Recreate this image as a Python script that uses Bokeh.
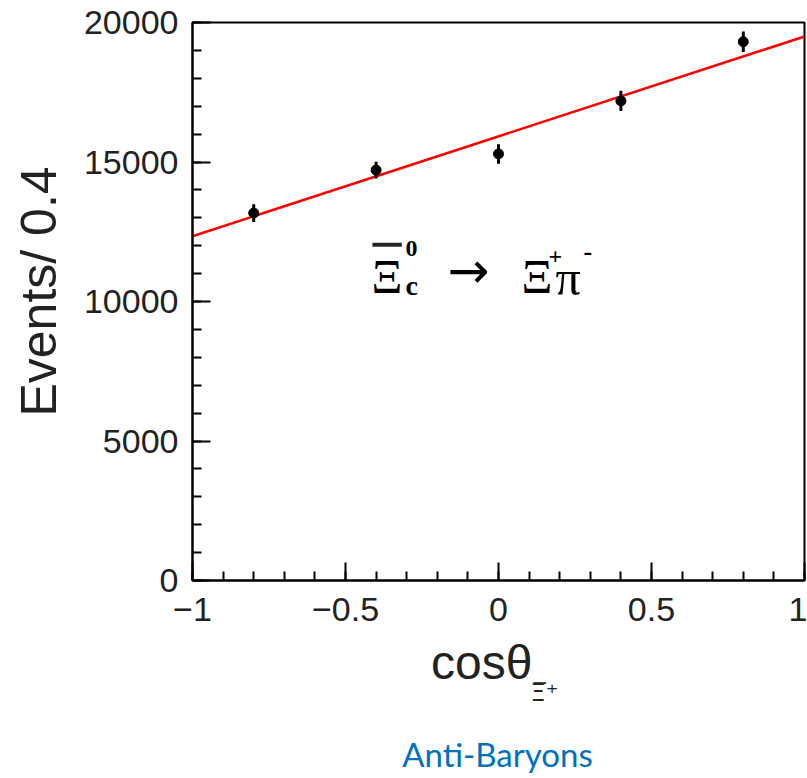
import numpy as np
from bokeh.plotting import figure
from bokeh.models import Label, SingleIntervalTicker, Range1d, BoxAnnotation
from bokeh.embed import file_html
from bokeh.resources import INLINE

# ---- data ----
cos_theta = [-0.8, -0.4, 0.0, 0.4, 0.8]
events = [13170, 14710, 15290, 17190, 19310]
event_err = [320, 300, 350, 360, 370]
fit_x = [-1.0, 1.0]
fit_y = [12340, 19500]
x_tick_labels = {-1: "\u22121", -0.5: "\u22120.5", 0: "0", 0.5: "0.5", 1: "1"}
x_ticks_major = 0.5
y_ticks_major = 5000

p = figure(width=807, height=778, output_backend="svg", toolbar_location=None,
           x_range=Range1d(-1, 1), y_range=Range1d(0, 20000),
           min_border_left=192, min_border_right=3, min_border_top=22, min_border_bottom=198)
p.background_fill_color = "white"
p.border_fill_color = "white"
p.outline_line_color = "black"
p.outline_line_width = 2
p.outline_line_alpha = 1
p.grid.visible = False

# axes styling (ROOT style: inward ticks)
for ax in (p.xaxis[0], p.yaxis[0]):
    ax.axis_line_width = 2
    ax.axis_line_color = "black"
    ax.major_tick_in = 18
    ax.major_tick_out = 0
    ax.minor_tick_in = 9
    ax.minor_tick_out = 0
    ax.major_tick_line_width = 2
    ax.minor_tick_line_width = 2
    ax.major_tick_line_color = "black"
    ax.minor_tick_line_color = "black"
    ax.major_label_text_font = "Liberation Sans"
    ax.major_label_text_font_size = "34px"
    ax.major_label_text_color = "#222222"
    ax.axis_label_text_font = "Liberation Sans"
    ax.axis_label_text_font_style = "normal"
    ax.axis_label_text_color = "#222222"

p.xaxis[0].ticker = SingleIntervalTicker(interval=x_ticks_major, num_minor_ticks=5)
p.yaxis[0].ticker = SingleIntervalTicker(interval=y_ticks_major, num_minor_ticks=5)
p.xaxis[0].major_label_overrides = x_tick_labels
p.xaxis[0].major_label_standoff = 17
p.yaxis[0].major_label_standoff = 14
p.yaxis[0].axis_label = "\u2009\u2009Events/ 0.4"
p.yaxis[0].axis_label_text_font_size = "50px"
p.yaxis[0].axis_label_standoff = 14
p.xaxis[0].axis_label = "cos\u03b8\u2002\u2009"
p.xaxis[0].axis_label_text_font_size = "48px"
p.xaxis[0].axis_label_standoff = 12

# fit line
p.line(fit_x, fit_y, line_color="red", line_width=2.5)

# data points with error bars
ev = np.array(events)
er = np.array(event_err)
p.segment(x0=cos_theta, y0=ev - er, x1=cos_theta, y1=ev + er, line_color="black", line_width=3)
p.scatter(cos_theta, events, marker="circle", size=10, fill_color="black", line_color="black")

# decay formula (serif, ROOT style)
def lab(x, y, t, size, style="normal", baseline="alphabetic", font="Liberation Serif"):
    p.add_layout(Label(x=x, y=y, text=t, text_font=font, text_font_size=size,
                       text_font_style=style, text_color="black", text_baseline=baseline))

lab(-0.415, 10880, "\u039e", "48px")
p.add_layout(BoxAnnotation(left=-0.412, right=-0.316, bottom=11960, top=12110,
                           fill_color="black", fill_alpha=0.85, line_alpha=0))
lab(-0.304, 11900, "0", "24px", "bold")
lab(-0.304, 10560, "c", "28px", "bold")
lab(-0.167, 11079, "\u2192", "50px", baseline="middle", font="DejaVu Sans")
lab(0.075, 10880, "\u039e", "48px")
lab(0.163, 11600, "+", "24px", "bold")
lab(0.186, 10840, "\u03c0", "50px")
lab(0.278, 11800, "-", "26px", "bold")

# subscript on x-axis label, in a side panel below (not clipped by the frame)
p.add_layout(Label(x=338, y=27, x_units="screen", y_units="screen", text="\u039e\u0305\u207a",
                   text_font="DejaVu Sans", text_font_size="24px", text_color="#222222",
                   text_baseline="alphabetic"), "below")

# caption, also in a side panel below
p.add_layout(Label(x=305, y=6, x_units="screen", y_units="screen", text="Anti-Baryons",
                   text_font="Lato", text_font_size="33px", text_color="#0070C0",
                   text_align="center", text_baseline="alphabetic"), "below")

open("out.html", "w").write(file_html(p, INLINE))
